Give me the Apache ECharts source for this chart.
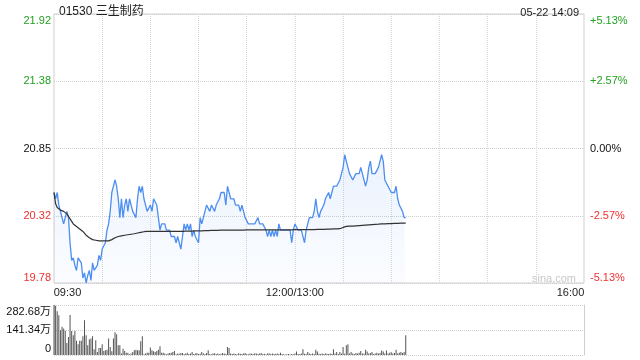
<!DOCTYPE html>
<html>
<head>
<meta charset="utf-8">
<script src="https://cdn.jsdelivr.net/npm/echarts@6/dist/echarts.min.js"></script>
<style>html,body{margin:0;padding:0;background:#fff;}#c{width:640px;height:360px;}</style>
</head>
<body>
<div id="c"></div>
<script>
const titleText = '01530 三生制药';
const timeText = '05-22 14:09';
const priceTicks = ['19.78', '20.32', '20.85', '21.38', '21.92'];
const pctTicks = ['-5.13%', '-2.57%', '0.00%', '+2.57%', '+5.13%'];
const volTicks = ['0', '141.34万', '282.68万'];
const xTickLabels = {0: '09:30', 150: '12:00/13:00', 330: '16:00'};

const price = [
20.50,20.45,20.50,20.40,20.35,20.30,20.25,20.25,20.35,20.30,
20.10,19.96,19.98,19.92,19.88,19.98,19.98,19.94,19.82,19.86,
19.78,19.84,19.88,19.80,19.94,19.88,19.90,19.92,20.00,19.96,
20.05,20.05,20.10,20.20,20.25,20.35,20.50,20.50,20.60,20.55,
20.45,20.30,20.45,20.30,20.40,20.45,20.35,20.45,20.45,20.35,
20.35,20.30,20.45,20.55,20.50,20.55,20.45,20.45,20.35,20.35,
20.40,20.35,20.45,20.45,20.40,20.30,20.20,20.25,20.25,20.25,
20.20,20.20,20.20,20.15,20.15,20.15,20.10,20.15,20.10,20.05,
20.15,20.25,20.20,20.25,20.20,20.25,20.15,20.20,20.15,20.15,
20.10,20.30,20.25,20.30,20.30,20.40,20.40,20.35,20.40,20.40,
20.35,20.40,20.40,20.45,20.50,20.50,20.50,20.40,20.55,20.55,
20.45,20.45,20.45,20.40,20.40,20.40,20.35,20.40,20.35,20.30,
20.30,20.25,20.25,20.25,20.25,20.25,20.25,20.30,20.25,20.25,
20.25,20.25,20.20,20.15,20.20,20.15,20.20,20.15,20.20,20.15,
20.25,20.20,20.20,20.20,20.20,20.20,20.20,20.20,20.10,20.20,
20.25,20.25,20.20,20.20,20.20,20.20,20.10,20.20,20.25,20.30,
20.30,20.30,20.35,20.45,20.35,20.30,20.35,20.35,20.40,20.45,
20.45,20.50,20.45,20.50,20.55,20.55,20.55,20.55,20.60,20.65,
20.70,20.80,20.75,20.70,20.65,20.65,20.60,20.60,20.65,20.65,
20.65,20.70,20.70,20.60,20.55,20.60,20.70,20.75,20.65,20.65,
20.65,20.65,20.70,20.75,20.80,20.75,20.60,20.60,20.55,20.55,
20.50,20.50,20.50,20.55,20.45,20.40,20.40,20.35,20.30,20.30
];

const avgPrice = [
20.50,20.41,20.38,20.37,20.36,20.36,20.35,20.34,20.33,20.33,
20.29,20.27,20.25,20.24,20.23,20.22,20.21,20.20,20.19,20.175,
20.16,20.15,20.14,20.13,20.125,20.12,20.12,20.115,20.115,20.115,
20.115,20.115,20.115,20.115,20.115,20.12,20.125,20.13,20.14,20.145,
20.15,20.152,20.155,20.158,20.16,20.162,20.164,20.166,20.168,20.17,
20.172,20.175,20.178,20.18,20.183,20.186,20.188,20.19,20.19,20.19,
20.19,20.19,20.19,20.19,20.19,20.19,20.19,20.19,20.19,20.19,
20.19,20.19,20.19,20.19,20.19,20.19,20.19,20.19,20.19,20.19,
20.19,20.19,20.192,20.192,20.192,20.193,20.193,20.193,20.194,20.194,
20.195,20.195,20.195,20.196,20.196,20.197,20.197,20.197,20.198,20.198,
20.198,20.199,20.199,20.2,20.2,20.2,20.2,20.2,20.201,20.201,
20.201,20.201,20.201,20.201,20.201,20.201,20.201,20.201,20.201,20.201,
20.202,20.202,20.202,20.202,20.202,20.202,20.202,20.202,20.202,20.202,
20.203,20.203,20.203,20.203,20.203,20.203,20.203,20.203,20.203,20.203,
20.203,20.203,20.203,20.203,20.203,20.203,20.203,20.203,20.203,20.203,
20.204,20.204,20.204,20.204,20.204,20.204,20.204,20.204,20.204,20.204,
20.205,20.205,20.205,20.206,20.206,20.206,20.207,20.207,20.207,20.208,
20.208,20.209,20.209,20.21,20.21,20.211,20.211,20.212,20.212,20.215,
20.222,20.228,20.23,20.231,20.232,20.233,20.233,20.234,20.235,20.236,
20.237,20.238,20.239,20.24,20.241,20.242,20.243,20.244,20.245,20.246,
20.247,20.247,20.248,20.249,20.25,20.25,20.251,20.252,20.252,20.253,
20.253,20.254,20.254,20.255,20.255,20.256,20.256,20.257,20.257,20.257
];

const volume = [
282.68,278,247,225,140,160,150,137,68,102,
226,135,112,135,80,61,80,80,106,197,
112,55,89,93,106,32,83,17,40,40,
61,23,27,30,93,45,21,93,129,118,
55,55,8,36,23,13,13,4,8,17,
27,30,27,27,78,106,4,8,13,13,
42,27,21,17,23,30,49,13,13,8,
4,8,11,13,17,23,4,9,7,11,
12,6,8,13,5,9,17,6,8,11,
5,7,17,9,6,11,27,5,4,8,
10,6,9,4,7,12,8,6,45,40,
8,5,9,6,4,10,7,5,8,11,
6,4,9,7,5,10,8,6,9,11,
5,7,4,8,10,6,9,5,7,8,
6,13,5,4,3,4,5,3,6,4,
8,20,6,5,9,32,7,6,17,9,
5,8,6,30,20,7,5,9,6,8,
7,5,9,6,32,8,17,6,17,9,
45,7,55,61,8,17,9,6,11,8,
13,23,9,7,30,20,8,11,17,6,
9,13,8,11,25,20,9,25,8,13,
15,9,11,30,8,13,17,11,17,112
];

// minute categories of the trading day (morning 09:30-12:00, afternoon 13:00-16:00)
const categories = [];
function hm(t) { const h = Math.floor(t / 60), m = t % 60; return (h < 10 ? '0' : '') + h + ':' + (m < 10 ? '0' : '') + m; }
for (let t = 570; t <= 720; t++) categories.push(hm(t));
for (let t = 781; t <= 960; t++) categories.push(hm(t));

const FONT = '"Liberation Sans", Arial, "Noto Sans CJK SC", sans-serif';
const GREEN = '#22a022';
const RED = '#f03030';
const BLACK = '#111';
const fs = 11;

function rs(color, pad) { return {color: color, fontSize: fs, fontFamily: FONT, padding: pad || [0, 0, 0, 0]}; }
const richY = {
  t0: rs(RED, [0, 0, 10, 0]), t1: rs(RED), t2: rs(BLACK), t3: rs(GREEN), t4: rs(GREEN, [13, 0, 0, 0])
};
const richV = {
  v0: rs(BLACK, [0, 0, 12, 0]), v1: rs(BLACK), v2: rs(BLACK, [14, 0, 0, 0])
};
const richX = {
  a: rs('#222', [0, 0, 0, 27]), b: rs('#222'), c: rs('#222', [0, 27, 0, 0])
};

const chart = echarts.init(document.getElementById('c'), null, {renderer: 'canvas'});
chart.setOption({
  animation: false,
  title: [
    {text: titleText, left: 54, top: 1, textStyle: {fontSize: 12, fontWeight: 'normal', color: '#222', fontFamily: FONT}},
    {text: timeText, right: 56, top: 2, textStyle: {fontSize: 11, fontWeight: 'normal', color: '#222', fontFamily: FONT}}
  ],
  graphic: [
    {type: 'text', left: 532, top: 273, style: {text: 'sina.com', fill: '#c8c8c8', fontSize: 11, fontFamily: FONT}}
  ],
  grid: [
    {left: 54, right: 56, top: 14, height: 269, show: true, borderColor: '#cfcfcf', borderWidth: 1, backgroundColor: 'transparent'},
    {left: 54, right: 56, top: 305, height: 50}
  ],
  xAxis: [
    {
      type: 'category', gridIndex: 0, data: categories, boundaryGap: false,
      axisLine: {show: false}, axisTick: {show: false},
      axisLabel: {
        interval: function (i) { return xTickLabels[i] !== undefined; },
        margin: 4, rich: richX,
        formatter: function (v, i) {
          const k = i === 0 ? 'a' : (i === 330 ? 'c' : 'b');
          return '{' + k + '|' + xTickLabels[i] + '}';
        }
      },
      splitLine: {show: true, interval: function (i) { return i % 30 === 0 && i > 0 && i < 330; },
        lineStyle: {color: '#d6d6d6', type: 'dotted', width: 1}}
    },
    {
      type: 'category', gridIndex: 1, data: categories, boundaryGap: false,
      axisLine: {show: false}, axisTick: {show: false}, axisLabel: {show: false}, splitLine: {show: false}
    }
  ],
  yAxis: [
    {type: 'value', gridIndex: 0, min: 19.78, max: 21.92, show: false},
    {
      type: 'value', gridIndex: 0, position: 'left', min: 0, max: 4, interval: 1,
      axisLine: {show: false}, axisTick: {show: false},
      axisLabel: {margin: 3, rich: richY, formatter: function (v) { return '{t' + v + '|' + priceTicks[v] + '}'; }},
      splitLine: {show: true, lineStyle: {color: '#cfcfcf', type: 'dotted', width: 1}}
    },
    {
      type: 'value', gridIndex: 0, position: 'right', min: 0, max: 4, interval: 1,
      axisLine: {show: false}, axisTick: {show: false},
      axisLabel: {margin: 6, rich: richY, formatter: function (v) { return '{t' + v + '|' + pctTicks[v] + '}'; }},
      splitLine: {show: false}
    },
    {type: 'value', gridIndex: 1, min: 0, max: 282.68, show: false},
    {
      type: 'value', gridIndex: 1, position: 'left', min: 0, max: 2, interval: 1,
      axisLine: {show: true, lineStyle: {color: '#cfcfcf'}}, axisTick: {show: false},
      axisLabel: {margin: 3, rich: richV, formatter: function (v) { return '{v' + v + '|' + volTicks[v] + '}'; }},
      splitLine: {show: true, lineStyle: {color: '#cfcfcf', type: 'dotted', width: 1}}
    },
    {
      type: 'value', gridIndex: 1, position: 'right', min: 0, max: 2, interval: 1,
      axisLine: {show: true, lineStyle: {color: '#cfcfcf'}}, axisTick: {show: false},
      axisLabel: {show: false}, splitLine: {show: false}
    }
  ],
  series: [
    {
      type: 'line', xAxisIndex: 0, yAxisIndex: 0, data: price, symbol: 'none',
      lineStyle: {color: '#4d8ef2', width: 1.3},
      areaStyle: {origin: 'start', color: new echarts.graphic.LinearGradient(0, 0, 0, 1, [
        {offset: 0, color: 'rgba(77,142,242,0.16)'}, {offset: 1, color: 'rgba(77,142,242,0.03)'}])}
    },
    {
      type: 'line', xAxisIndex: 0, yAxisIndex: 0, data: avgPrice, symbol: 'none',
      lineStyle: {color: '#333', width: 1.2}
    },
    {
      type: 'bar', xAxisIndex: 1, yAxisIndex: 3, data: volume, barWidth: 1,
      itemStyle: {color: '#555'}
    }
  ]
});
</script>
</body>
</html>
